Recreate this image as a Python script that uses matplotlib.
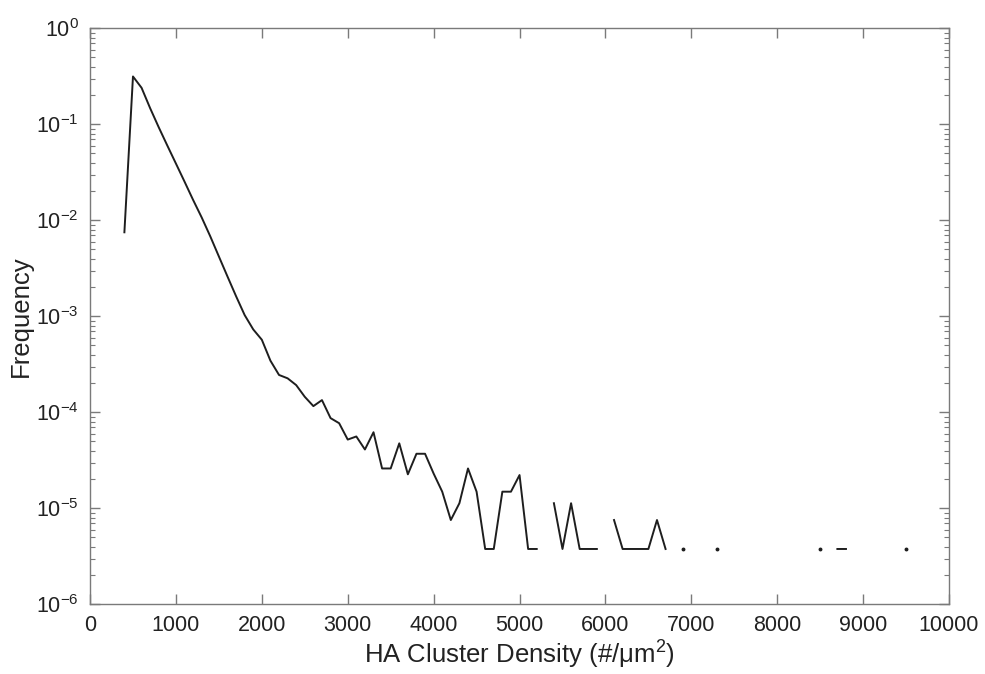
import numpy as np
import matplotlib
matplotlib.use("Agg")
import matplotlib.pyplot as plt
from matplotlib.ticker import LogLocator, FixedLocator, NullLocator

# Bin centres (#/um^2) and frequency (0 = empty bin)
density = [400, 500, 600, 700, 800, 900, 1000, 1100, 1200, 1300,
           1400, 1500, 1600, 1700, 1800, 1900, 2000, 2100, 2200, 2300,
           2400, 2500, 2600, 2700, 2800, 2900, 3000, 3100, 3200, 3300,
           3400, 3500, 3600, 3700, 3800, 3900, 4000, 4100, 4200, 4300,
           4400, 4500, 4600, 4700, 4800, 4900, 5000, 5100, 5200, 5300,
           5400, 5500, 5600, 5700, 5800, 5900, 6000, 6100, 6200, 6300,
           6400, 6500, 6600, 6700, 6800, 6900, 7000, 7100, 7200, 7300,
           7400, 7500, 7600, 7700, 7800, 7900, 8000, 8100, 8200, 8300,
           8400, 8500, 8600, 8700, 8800, 8900, 9000, 9100, 9200, 9300,
           9400, 9500]
frequency = [7.5e-3, 0.315, 0.24, 0.147, 0.093, 0.060, 0.039, 0.0253, 0.0163, 0.0107,
             6.8e-3, 4.2e-3, 2.6e-3, 1.62e-3, 1.03e-3, 7.3e-4, 5.7e-4, 3.45e-4, 2.45e-4, 2.26e-4,
             1.92e-4, 1.45e-4, 1.16e-4, 1.34e-4, 8.7e-5, 7.7e-5, 5.2e-5, 5.6e-5, 4.1e-5, 6.2e-5,
             2.6e-5, 2.6e-5, 4.75e-5, 2.26e-5, 3.7e-5, 3.7e-5, 2.3e-5, 1.49e-5, 7.55e-6, 1.13e-5,
             2.6e-5, 1.49e-5, 3.77e-6, 3.77e-6, 1.49e-5, 1.49e-5, 2.22e-5, 3.77e-6, 3.77e-6, 0,
             1.13e-5, 3.77e-6, 1.13e-5, 3.77e-6, 3.77e-6, 3.77e-6, 0, 7.55e-6, 3.77e-6, 3.77e-6,
             3.77e-6, 3.77e-6, 7.55e-6, 3.77e-6, 0, 3.77e-6, 0, 0, 0, 3.77e-6,
             0, 0, 0, 0, 0, 0, 0, 0, 0, 0,
             0, 3.77e-6, 0, 3.77e-6, 3.77e-6, 0, 0, 0, 0, 0,
             0, 3.77e-6]

x_ticks = [0, 1000, 2000, 3000, 4000, 5000, 6000, 7000, 8000, 9000, 10000]

plt.rcParams['font.family'] = ['Liberation Sans', 'DejaVu Sans']
plt.rcParams['mathtext.fontset'] = 'custom'
plt.rcParams['mathtext.rm'] = 'Liberation Sans'
plt.rcParams['mathtext.it'] = 'Liberation Sans'
plt.rcParams['mathtext.bf'] = 'Liberation Sans'

x = np.array(density, dtype=float)
f = np.array(frequency, dtype=float)
y = np.where(f > 0, f, np.nan)

# isolated non-empty bins (no non-empty neighbour) are shown as dots
pos = f > 0
prev_pos = np.concatenate([[False], pos[:-1]])
next_pos = np.concatenate([pos[1:], [False]])
iso = pos & ~prev_pos & ~next_pos

fig = plt.figure(figsize=(9.85, 6.74), dpi=100)
ax = fig.add_axes([0.0914, 0.1034, 0.8721, 0.8546])

line_c = '#1e1e1e'
ax.plot(x, y, color=line_c, lw=1.4)
ax.plot(x[iso], f[iso], ls='none', marker='o', ms=1.8, mec=line_c, mfc=line_c)

ax.set_yscale('log')
ax.set_xlim(0, 10000)
ax.set_ylim(1e-6, 1)
ax.xaxis.set_major_locator(FixedLocator(x_ticks))
ax.xaxis.set_minor_locator(NullLocator())
ax.yaxis.set_major_locator(LogLocator(base=10, numticks=10))
ax.yaxis.set_minor_locator(LogLocator(base=10, subs=np.arange(2, 10), numticks=10))

spine_c = '#7a7a7a'
for s in ax.spines.values():
    s.set_color(spine_c)
    s.set_linewidth(1.0)

ax.tick_params(which='both', direction='in', top=True, right=True, color=spine_c,
               labelcolor='#222222', labelsize=15.5)
ax.tick_params(which='major', length=7, width=1.0, pad=8)
ax.tick_params(which='minor', length=3.5, width=0.8)

ax.set_xlabel('HA Cluster Density (#/μm$^2$)', fontsize=18.5, color='#222222', labelpad=2)
ax.set_ylabel('Frequency', fontsize=18.5, color='#222222', labelpad=2)

fig.savefig('out.png', dpi=100, facecolor='white')
